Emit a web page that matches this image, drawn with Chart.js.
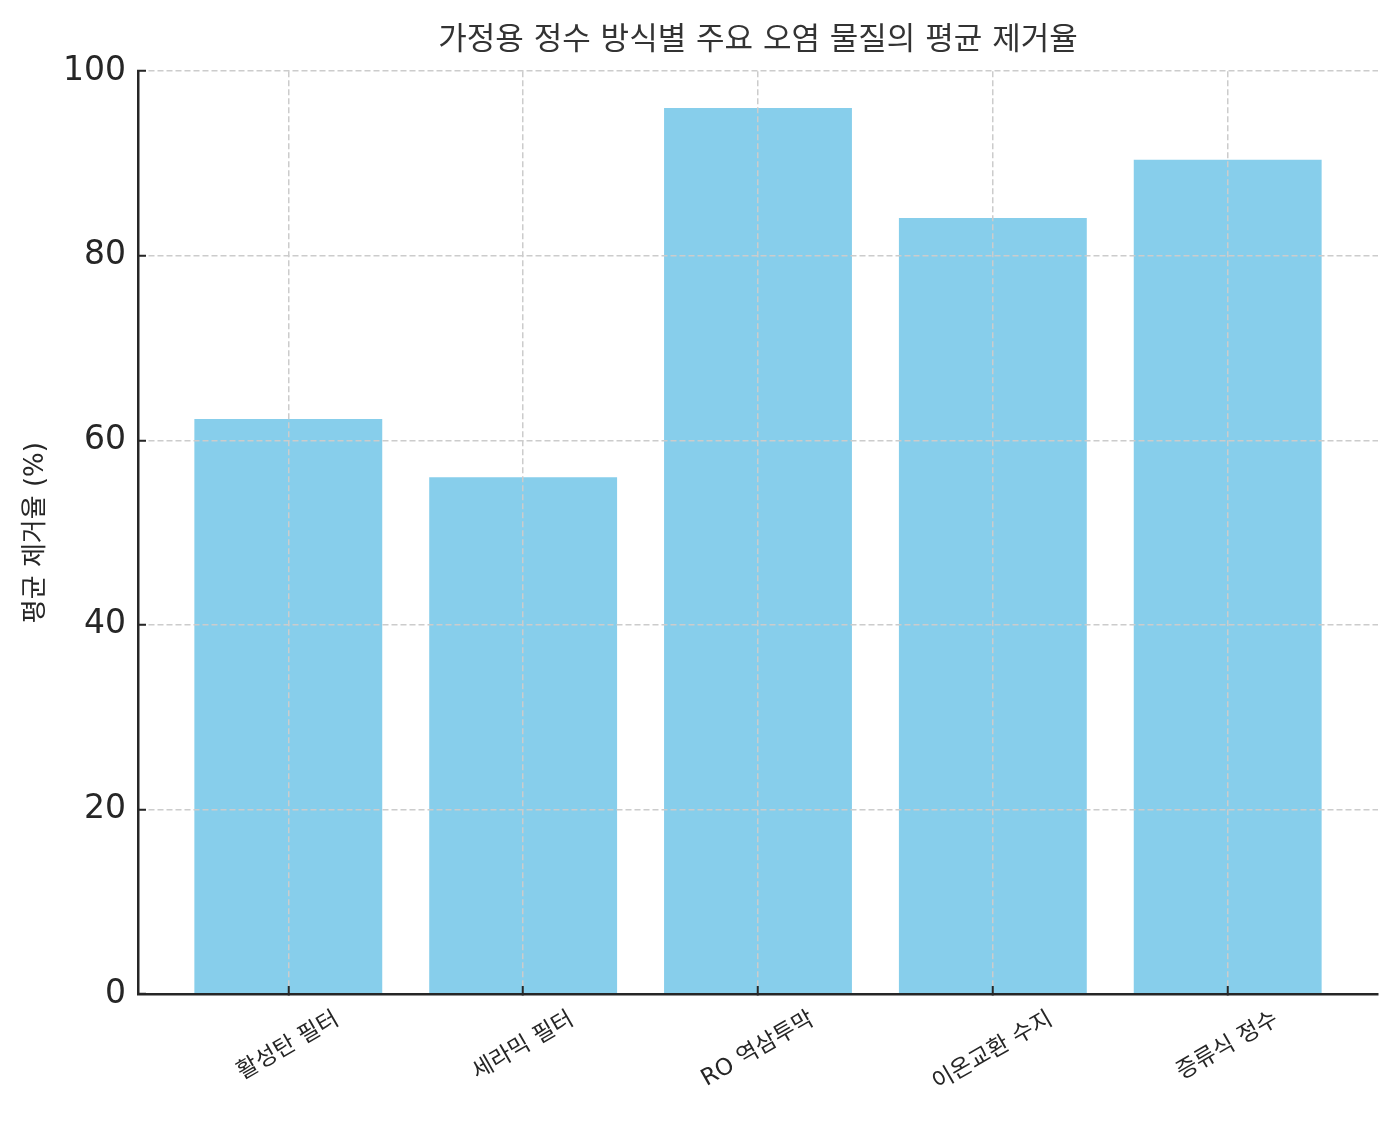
<!DOCTYPE html>
<html>
<head>
<meta charset="utf-8">
<script src="https://cdn.jsdelivr.net/npm/chart.js@4/dist/chart.umd.min.js"></script>
<style>
  html, body { margin: 0; padding: 0; background: #fff; }
  #wrap { width: 1397px; height: 1123px; position: relative; }
</style>
</head>
<body>
<div id="wrap"><canvas id="chart"></canvas></div>
<script>
/* data */
const chartTitle = "가정용 정수 방식별 주요 오염 물질의 평균 제거율";
const yAxisLabel = "평균 제거율 (%)";
const categories = ["활성탄 필터", "세라믹 필터", "RO 역삼투막", "이온교환 수지", "증류식 정수"];
const removalRates = [62.3, 56.0, 96.0, 84.1, 90.4];
const yTicks = [0, 20, 40, 60, 80, 100];

const FONT = '"DejaVu Sans", "Noto Sans CJK KR", sans-serif';
const ink = "#262626";

/* rotated, centred category labels (matplotlib style) */
const xLabels = {
  id: "xLabels",
  afterDraw(chart) {
    const { ctx, scales: { x }, chartArea } = chart;
    const a = Math.PI / 6, size = 23;
    ctx.save();
    ctx.font = size + "px " + FONT;
    ctx.fillStyle = ink;
    ctx.textAlign = "center";
    ctx.textBaseline = "middle";
    categories.forEach((label, i) => {
      const w = ctx.measureText(label).width;
      const H = w * Math.sin(a) + size * Math.cos(a);
      ctx.save();
      ctx.translate(x.getPixelForValue(i), chartArea.bottom + 14 + H / 2);
      ctx.rotate(-a);
      ctx.fillText(label, 0, 0);
      ctx.restore();
    });
    ctx.restore();
  }
};

const gridOpts = {
  color: c => (c.tick && c.tick.value === 0 && c.scale.axis === "y") ? "rgba(0,0,0,0)" : "#cccccc",
  lineWidth: 1.5, tickColor: ink, tickWidth: 2, tickLength: -8, z: 1, offset: false,
};
const borderOpts = { color: ink, width: 2.5, dash: [6, 3], z: 1 };

new Chart(document.getElementById("chart"), {
  type: "bar",
  data: {
    datasets: [{
      data: categories.map((c, i) => ({ x: i, y: removalRates[i] })),
      backgroundColor: "#87ceeb",
      borderWidth: 0,
      barPercentage: 1,
      categoryPercentage: 0.8,
    }],
  },
  options: {
    responsive: true, maintainAspectRatio: false, animation: false,
    layout: { padding: { top: 0, left: 0, right: 19, bottom: 0 } },
    plugins: {
      legend: { display: false },
      tooltip: { enabled: false },
      title: {
        display: true, text: chartTitle, fullSize: false, color: "#333333",
        font: { family: FONT, size: 31, weight: "normal", lineHeight: 1.2 },
        padding: { top: 22, bottom: 12 },
      },
    },
    scales: {
      x: {
        type: "linear", min: -0.64, max: 4.64, offset: false,
        afterBuildTicks: s => { s.ticks = categories.map((c, i) => ({ value: i })); },
        afterFit: s => { s.height = 129; },
        ticks: { display: false },
        grid: gridOpts, border: borderOpts,
      },
      y: {
        min: 0, max: 100,
        afterBuildTicks: s => { s.ticks = yTicks.map(v => ({ value: v })); },
        afterFit: s => { s.width = 138; },
        ticks: { color: ink, padding: 20, font: { family: FONT, size: 33 } },
        grid: gridOpts, border: borderOpts,
        title: {
          display: true, text: yAxisLabel, color: ink,
          font: { family: FONT, size: 26, lineHeight: 1.2 },
          padding: { top: 21, bottom: 0 },
        },
      },
    },
  },
  plugins: [xLabels],
});
</script>
</body>
</html>
